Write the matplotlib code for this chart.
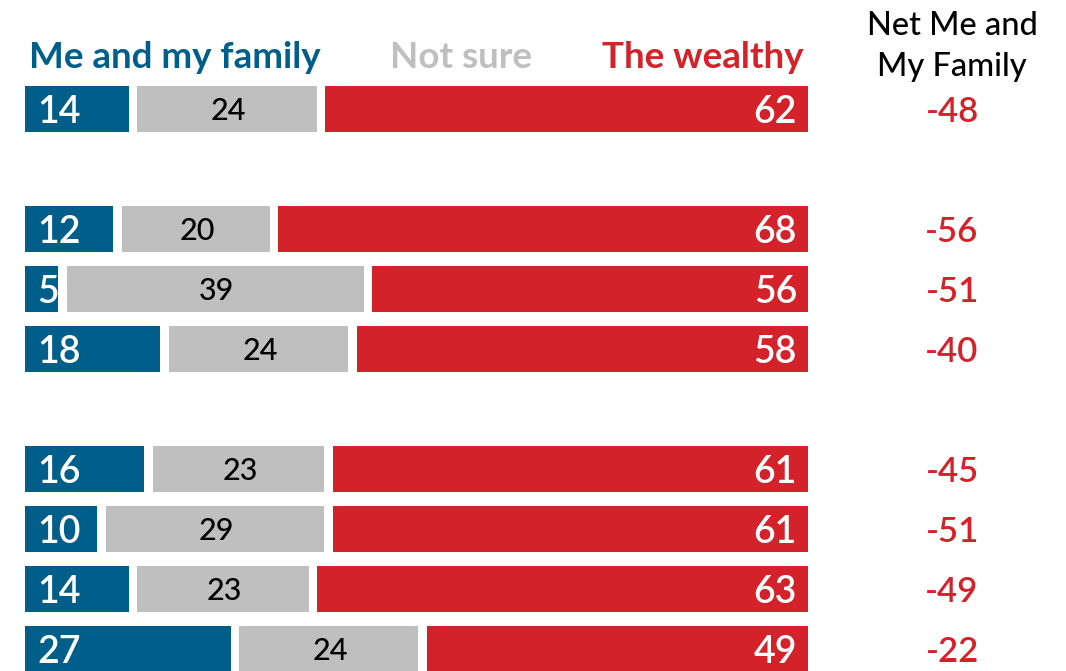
import matplotlib
matplotlib.use("Agg")
import matplotlib.pyplot as plt

# Survey shares (percent) per row, top to bottom
me_and_family = [14, 12, 5, 18, 16, 10, 14, 27]
not_sure = [24, 20, 39, 24, 23, 29, 23, 24]
the_wealthy = [62, 68, 56, 58, 61, 61, 63, 49]
group_sizes = [1, 3, 4]

series_names = ["Me and my family", "Not sure", "The wealthy"]
net_title = ["Net Me and", "My Family"]

BLUE = "#005F8A"
GRAY = "#BFBFBF"
RED = "#D4222A"

FONT = ["Lato", "DejaVu Sans"]
plt.rcParams["font.family"] = FONT

W, H = 1066, 671
fig = plt.figure(figsize=(W / 100, H / 100), dpi=100)

# Axis area: 0..100 spans the bar region; rows are 60 px apart
x0_px, x1_px = 25, 808
row_px, first_px = 60, 109
ax = fig.add_axes([x0_px / W, 0, (x1_px - x0_px) / W, 1])
ax.set_xlim(0, 100)
ax.set_ylim((H - first_px) / row_px, -first_px / row_px)
ax.axis("off")

# Row positions: groups separated by a blank row
positions = []
pos = 0
for size in group_sizes:
    positions.extend(range(pos, pos + size))
    pos += size + 1

gap = 1.1
bar_h = 46 / row_px
px_per_unit = (x1_px - x0_px) / 100

for y, m, n, w in zip(positions, me_and_family, not_sure, the_wealthy):
    segs = [(m, BLUE), (n, GRAY), (w, RED)]
    left = 0
    for i, (val, col) in enumerate(segs):
        start = left + (gap / 2 if i > 0 else 0) - 0.2
        end = left + val - (gap / 2 if i < len(segs) - 1 else 0) - 0.2
        if i == 0:
            start = 0
        if i == len(segs) - 1:
            end = 100
        ax.barh(y, end - start, left=start, height=bar_h, color=col, linewidth=0)
        left += val
    ax.text(12 / px_per_unit, y, f"{m}", color="white", fontsize=27,
            fontweight="semibold", ha="left", va="center_baseline")
    ax.text(m + n / 2, y, f"{n}", color="black", fontsize=22,
            fontweight="medium", ha="center", va="center_baseline")
    ax.text(100 - 11 / px_per_unit, y, f"{w}", color="white", fontsize=27,
            fontweight="semibold", ha="right", va="center_baseline")
    ax.text((952 - x0_px) / px_per_unit, y, f"{m - w}", color=RED, fontsize=25,
            fontweight="semibold", ha="center", va="center_baseline", clip_on=False)

# Column headers
fig.text(29 / W, 1 - 68 / H, series_names[0], color=BLUE, fontsize=26.5,
         fontweight="bold", ha="left", va="baseline")
fig.text(461 / W, 1 - 68 / H, series_names[1], color=GRAY, fontsize=26.5,
         fontweight="bold", ha="center", va="baseline")
fig.text(803 / W, 1 - 68 / H, series_names[2], color=RED, fontsize=26.5,
         fontweight="bold", ha="right", va="baseline")
for line, base_px in zip(net_title, [35, 76]):
    fig.text(952 / W, 1 - base_px / H, line, color="black", fontsize=23.5,
             fontweight="medium", ha="center", va="baseline")

fig.savefig("out.png", dpi=100, facecolor="white")
